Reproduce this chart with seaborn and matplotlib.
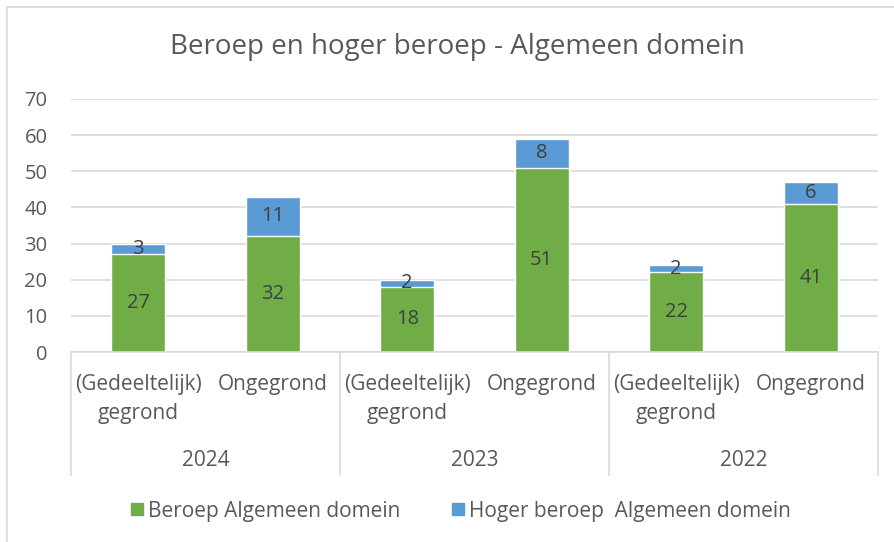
import matplotlib
matplotlib.use("Agg")
import matplotlib.pyplot as plt
from matplotlib.patches import Patch, Rectangle
import pandas as pd
import seaborn as sns

# data
years = ["2024", "2023", "2022"]
outcomes = ["(Gedeeltelijk)\ngegrond", "Ongegrond"]
beroep = [27, 32, 18, 51, 22, 41]
hoger_beroep = [3, 11, 2, 8, 2, 6]

GREEN = "#70AD47"
BLUE = "#5B9BD5"
GRID = "#D9D9D9"
TEXT = "#595959"

sns.set_theme(style="white")
plt.rcParams["font.family"] = ["Open Sans", "DejaVu Sans"]

df = pd.DataFrame({
    "cat": [f"{y}|{o}" for y in years for o in outcomes],
    "beroep": beroep,
    "hoger": hoger_beroep,
})
df["total"] = df["beroep"] + df["hoger"]

fig = plt.figure(figsize=(8.95, 5.42), dpi=100)
ax = fig.add_axes([71 / 895, 1 - 352 / 542, 807 / 895, 253 / 542])

# stacked bars: total in blue, beroep drawn over it in green
sns.barplot(data=df, x="cat", y="total", color=BLUE, width=0.4,
            saturation=1, ax=ax)
sns.barplot(data=df, x="cat", y="beroep", color=GREEN, width=0.4,
            saturation=1, ax=ax)

for i, row in df.iterrows():
    ax.text(i, row["beroep"] / 2, str(row["beroep"]), ha="center",
            va="center", fontsize=14.5, color="#404040")
    ax.text(i, row["beroep"] + row["hoger"] / 2, str(row["hoger"]),
            ha="center", va="center", fontsize=14.5, color="#404040")

ax.set_ylim(0, 70)
ax.set_xlim(-0.5, len(df) - 0.5)
ax.set_yticks(range(0, 71, 10))
ax.yaxis.grid(True, color=GRID, lw=1.2)
ax.set_axisbelow(True)
for side in ["top", "right", "left"]:
    ax.spines[side].set_visible(False)
ax.spines["bottom"].set_color(GRID)
ax.spines["bottom"].set_linewidth(1.2)
ax.tick_params(axis="y", length=0, pad=17, labelsize=14.5, labelcolor=TEXT)
ax.tick_params(axis="x", length=0, pad=15.5, labelsize=15, labelcolor=TEXT)
ax.set_xticks(range(len(df)))
ax.set_xticklabels([o for _ in years for o in outcomes],
                   linespacing=1.55)
ax.set_xlabel("")
ax.set_ylabel("")

# group separators and year labels below the axis
depth = (475 - 352) / 253
for k in range(len(years) + 1):
    ax.axvline(k * 2 - 0.5, ymin=-depth, ymax=0, color=GRID, lw=1.2,
               clip_on=False)
for k, y in enumerate(years):
    ax.text(k * 2 + 0.5, -(461 - 352) / 253, y, ha="center", va="center",
            fontsize=15, color=TEXT, transform=ax.get_xaxis_transform())

fig.text(0.511, 1 - 47 / 542, "Beroep en hoger beroep - Algemeen domein",
         ha="center", va="center", fontsize=20, color=TEXT)

handles = [Patch(color=GREEN, label="Beroep Algemeen domein"),
           Patch(color=BLUE, label="Hoger beroep  Algemeen domein")]
fig.legend(handles=handles, loc="center", bbox_to_anchor=(0.515, 1 - 511 / 542),
           ncol=2, frameon=False, fontsize=15, labelcolor=TEXT,
           handlelength=0.55, handleheight=0.55, handletextpad=0.25,
           columnspacing=2.5)

fig.patches.append(Rectangle((7 / 895, -0.05), 1.2, 1 - 7 / 542 + 0.05,
                             transform=fig.transFigure, fill=False,
                             edgecolor=GRID, lw=1.2))

fig.savefig("out.png", dpi=100)
